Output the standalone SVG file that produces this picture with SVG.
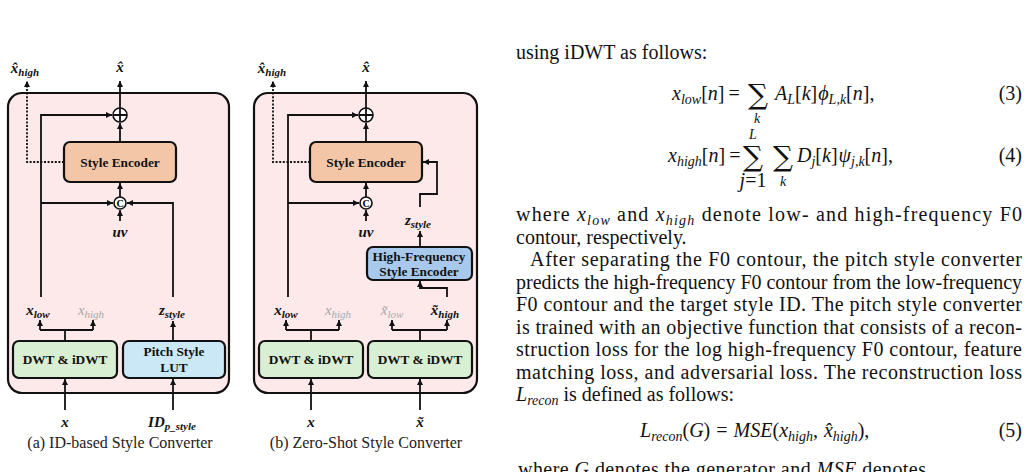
<svg xmlns="http://www.w3.org/2000/svg" width="1028" height="472" viewBox="0 0 1028 472">
<defs>
<marker id="ah" markerUnits="userSpaceOnUse" markerWidth="7" markerHeight="7" refX="6" refY="3" orient="auto">
<path d="M0,0 L6,3 L0,6 z" fill="#111"/>
</marker>
<style>
.panel{fill:#fde8ea;stroke:#111;stroke-width:2.2}
.se{fill:#f4c6a8;stroke:#111;stroke-width:2.2}
.dwt{fill:#d9efd3;stroke:#111;stroke-width:2.2}
.lut{fill:#cbe8f6;stroke:#111;stroke-width:2.2}
.hf{fill:#a8c9ec;stroke:#111;stroke-width:2.2}
.wire{fill:none;stroke:#111;stroke-width:1.8}
.arr{marker-end:url(#ah)}
.dot{fill:none;stroke:#111;stroke-width:1.8;stroke-dasharray:2 1.6}
.op{fill:#fff;stroke:#111;stroke-width:1.6}
.lbl{font-family:"Liberation Serif",serif;font-weight:bold;font-size:13.3px;text-anchor:middle;fill:#111}
.m{font-family:"Liberation Serif",serif;font-style:italic;font-weight:bold;font-size:15px;fill:#111;text-anchor:middle}
.g{fill:#a8a8a8;font-weight:normal}
.s{font-size:11px}
.cap{font-family:"Liberation Serif",serif;font-size:16px;text-anchor:middle;fill:#222}
.p{font-family:"Liberation Serif",serif;font-size:20px;fill:#111}
.i{font-style:italic}
.sb{font-size:14px;font-style:italic}
.sm{font-family:"DejaVu Serif","Liberation Serif",serif;fill:#111}
</style>
</defs>

<!-- Panel (a) -->
<g id="panel-a"><rect class="panel" x="8" y="93" width="221" height="300" rx="14"/></g>
<g id="se-a"><rect class="se" x="64" y="142" width="112" height="40" rx="6"/><text class="lbl" x="120" y="167">Style Encoder</text></g>
<g id="dwt-a"><rect class="dwt" x="13" y="341" width="104" height="37" rx="6"/><text class="lbl" x="65" y="364">DWT &amp; iDWT</text></g>
<g id="lut-a"><rect class="lut" x="123" y="341" width="102" height="37" rx="6"/><text class="lbl" x="174" y="356">Pitch Style</text><text class="lbl" x="174" y="372">LUT</text></g>
<g id="add-a"><circle class="op" cx="120" cy="115" r="7"/><path class="wire" d="M113 115 H127 M120 108 V122"/></g>
<g id="cat-a"><circle class="op" cx="120" cy="203" r="6"/><text x="120" y="207" font-family="Liberation Serif,serif" font-size="10" font-weight="bold" text-anchor="middle">C</text></g>

<!-- Panel (b) -->
<g id="panel-b"><rect class="panel" x="254" y="93" width="223" height="300" rx="14"/></g>
<g id="se-b"><rect class="se" x="310" y="142" width="112" height="40" rx="6"/><text class="lbl" x="366" y="167">Style Encoder</text></g>
<g id="dwt-b1"><rect class="dwt" x="259" y="341" width="104" height="37" rx="6"/><text class="lbl" x="311" y="364">DWT &amp; iDWT</text></g>
<g id="dwt-b2"><rect class="dwt" x="368" y="341" width="104" height="37" rx="6"/><text class="lbl" x="420" y="364">DWT &amp; iDWT</text></g>
<g id="hf-b"><rect class="hf" x="367" y="247" width="105" height="33" rx="6"/><text class="lbl" x="419" y="261">High-Frequency</text><text class="lbl" x="419" y="276">Style Encoder</text></g>
<g id="add-b"><circle class="op" cx="366" cy="115" r="7"/><path class="wire" d="M359 115 H373 M366 108 V122"/></g>
<g id="cat-b"><circle class="op" cx="366" cy="203" r="6"/><text x="366" y="207" font-family="Liberation Serif,serif" font-size="10" font-weight="bold" text-anchor="middle">C</text></g>

<g id="connectors">
<!-- (a) -->
<path class="wire arr" d="M120 108 V81"/>
<path class="dot arr" d="M64 162 H27 V81"/>
<path class="wire arr" d="M41 297 V115 H112"/>
<path class="wire arr" d="M41 203 H113"/>
<path class="wire arr" d="M173 297 V203 H127"/>
<path class="wire arr" d="M120 221 V210"/>
<path class="wire arr" d="M120 197 V183"/>
<path class="wire arr" d="M120 142 V123"/>
<path class="wire" d="M65 341 V330 M40 330 H93"/>
<path class="wire arr" d="M40 330 V320"/>
<path class="wire arr" d="M93 330 V320"/>
<path class="wire arr" d="M173 341 V321"/>
<path class="wire arr" d="M65 410 V379"/>
<path class="wire arr" d="M173 410 V379"/>
<!-- (b) -->
<path class="wire arr" d="M366 108 V81"/>
<path class="dot arr" d="M310 162 H273 V81"/>
<path class="wire arr" d="M288 297 V115 H358"/>
<path class="wire arr" d="M288 203 H359"/>
<path class="wire arr" d="M366 221 V210"/>
<path class="wire arr" d="M366 197 V183"/>
<path class="wire arr" d="M366 142 V123"/>
<path class="wire arr" d="M420 207 V194 H437 V162 H423"/>
<path class="wire arr" d="M420 247 V231"/>
<path class="wire arr" d="M447 297 V288 H420 V281"/>
<path class="wire" d="M311 341 V330 M286 330 H339"/>
<path class="wire arr" d="M286 330 V320"/>
<path class="wire arr" d="M339 330 V320"/>
<path class="wire" d="M420 341 V330 M392 330 H447"/>
<path class="wire arr" d="M392 330 V320"/>
<path class="wire arr" d="M447 330 V320"/>
<path class="wire arr" d="M311 410 V379"/>
<path class="wire arr" d="M420 410 V379"/>
</g>

<g id="labels">
<text class="m" x="25" y="73">x̂<tspan class="s" dy="3">high</tspan></text>
<text class="m" x="120" y="72">x̂</text>
<text class="m" x="120" y="237">uv</text>
<text class="m" x="38" y="315">x<tspan class="s" dy="3">low</tspan></text>
<text class="m g" x="91" y="315">x<tspan class="s" dy="3">high</tspan></text>
<text class="m" x="172" y="315">z<tspan class="s" dy="3">style</tspan></text>
<text class="m" x="65" y="427">x</text>
<text class="m" x="172" y="427">ID<tspan class="s" dy="3">p_style</tspan></text>

<text class="m" x="272" y="73">x̂<tspan class="s" dy="3">high</tspan></text>
<text class="m" x="366" y="72">x̂</text>
<text class="m" x="366" y="237">uv</text>
<text class="m" x="418" y="225">z<tspan class="s" dy="3">style</tspan></text>
<text class="m" x="286" y="315">x<tspan class="s" dy="3">low</tspan></text>
<text class="m g" x="338" y="315">x<tspan class="s" dy="3">high</tspan></text>
<text class="m g" x="392" y="315">x̃<tspan class="s" dy="3">low</tspan></text>
<text class="m" x="445" y="315">x̃<tspan class="s" dy="3">high</tspan></text>
<text class="m" x="311" y="427">x</text>
<text class="m" x="420" y="427">x̃</text>

<text class="cap" x="120" y="448">(a) ID-based Style Converter</text>
<text class="cap" x="366" y="448">(b) Zero-Shot Style Converter</text>
</g>

<g id="body-text">
<text class="p" x="516" y="59">using iDWT as follows:</text>

<text class="p" x="672" y="100"><tspan class="i">x</tspan><tspan class="sb" dy="4">low</tspan><tspan dy="-4">[</tspan><tspan class="i">n</tspan>]<tspan dx="4">=</tspan></text>
<text class="sm" x="758" y="104" font-size="28" text-anchor="middle">∑</text>
<text class="p sb" x="757" y="123" text-anchor="middle">k</text>
<text class="p" x="775" y="100"><tspan class="i">A</tspan><tspan class="sb" dy="4">L</tspan><tspan dy="-4">[</tspan><tspan class="i">k</tspan>]<tspan class="i" dx="1">ϕ</tspan><tspan class="sb" dy="4">L,k</tspan><tspan dy="-4">[</tspan><tspan class="i">n</tspan>],</text>
<text class="p" x="1022" y="100" text-anchor="end">(3)</text>

<text class="p sb" x="753" y="139" text-anchor="middle">L</text>
<text class="p" x="668" y="162"><tspan class="i">x</tspan><tspan class="sb" dy="4">high</tspan><tspan dy="-4">[</tspan><tspan class="i">n</tspan>]<tspan dx="4">=</tspan></text>
<text class="sm" x="753" y="166" font-size="28" text-anchor="middle">∑</text>
<text class="sm" x="783" y="166" font-size="28" text-anchor="middle">∑</text>
<text class="p" x="753" y="187" text-anchor="middle" font-size="13"><tspan class="i">j</tspan>=1</text>
<text class="p sb" x="783" y="186" text-anchor="middle">k</text>
<text class="p" x="797" y="162"><tspan class="i">D</tspan><tspan class="sb" dy="4">j</tspan><tspan dy="-4">[</tspan><tspan class="i">k</tspan>]<tspan class="i" dx="1">ψ</tspan><tspan class="sb" dy="4">j,k</tspan><tspan dy="-4">[</tspan><tspan class="i">n</tspan>],</text>
<text class="p" x="1022" y="162" text-anchor="end">(4)</text>

<text class="p" x="516" y="221" textLength="506" lengthAdjust="spacing">where <tspan class="i">x</tspan><tspan class="sb" dy="4">low</tspan><tspan dy="-4"> and </tspan><tspan class="i">x</tspan><tspan class="sb" dy="4">high</tspan><tspan dy="-4"> denote low- and high-frequency F0</tspan></text>
<text class="p" x="516" y="243.5">contour, respectively.</text>
<text class="p" x="530" y="266" textLength="492" lengthAdjust="spacing">After separating the F0 contour, the pitch style converter</text>
<text class="p" x="516" y="288.5" textLength="506" lengthAdjust="spacing">predicts the high-frequency F0 contour from the low-frequency</text>
<text class="p" x="516" y="311" textLength="506" lengthAdjust="spacing">F0 contour and the target style ID. The pitch style converter</text>
<text class="p" x="516" y="333.5" textLength="506" lengthAdjust="spacing">is trained with an objective function that consists of a recon-</text>
<text class="p" x="516" y="356" textLength="506" lengthAdjust="spacing">struction loss for the log high-frequency F0 contour, feature</text>
<text class="p" x="516" y="378.5" textLength="506" lengthAdjust="spacing">matching loss, and adversarial loss. The reconstruction loss</text>
<text class="p" x="516" y="401"><tspan class="i">L</tspan><tspan class="sb" dy="4">recon</tspan><tspan dy="-4"> is defined as follows:</tspan></text>

<text class="p" x="640" y="437"><tspan class="i">L</tspan><tspan class="sb" dy="4">recon</tspan><tspan dy="-4">(</tspan><tspan class="i">G</tspan>)<tspan dx="6">=</tspan><tspan class="i" dx="6">MSE</tspan>(<tspan class="i">x</tspan><tspan class="sb" dy="4">high</tspan><tspan dy="-4">,</tspan><tspan class="i" dx="6">x̂</tspan><tspan class="sb" dy="4">high</tspan><tspan dy="-4">),</tspan></text>
<text class="p" x="1022" y="437" text-anchor="end">(5)</text>

<text class="p" x="518" y="476" textLength="408" lengthAdjust="spacing">where <tspan class="i">G</tspan> denotes the generator and <tspan class="i">MSE</tspan> denotes</text>
</g>
</svg>
